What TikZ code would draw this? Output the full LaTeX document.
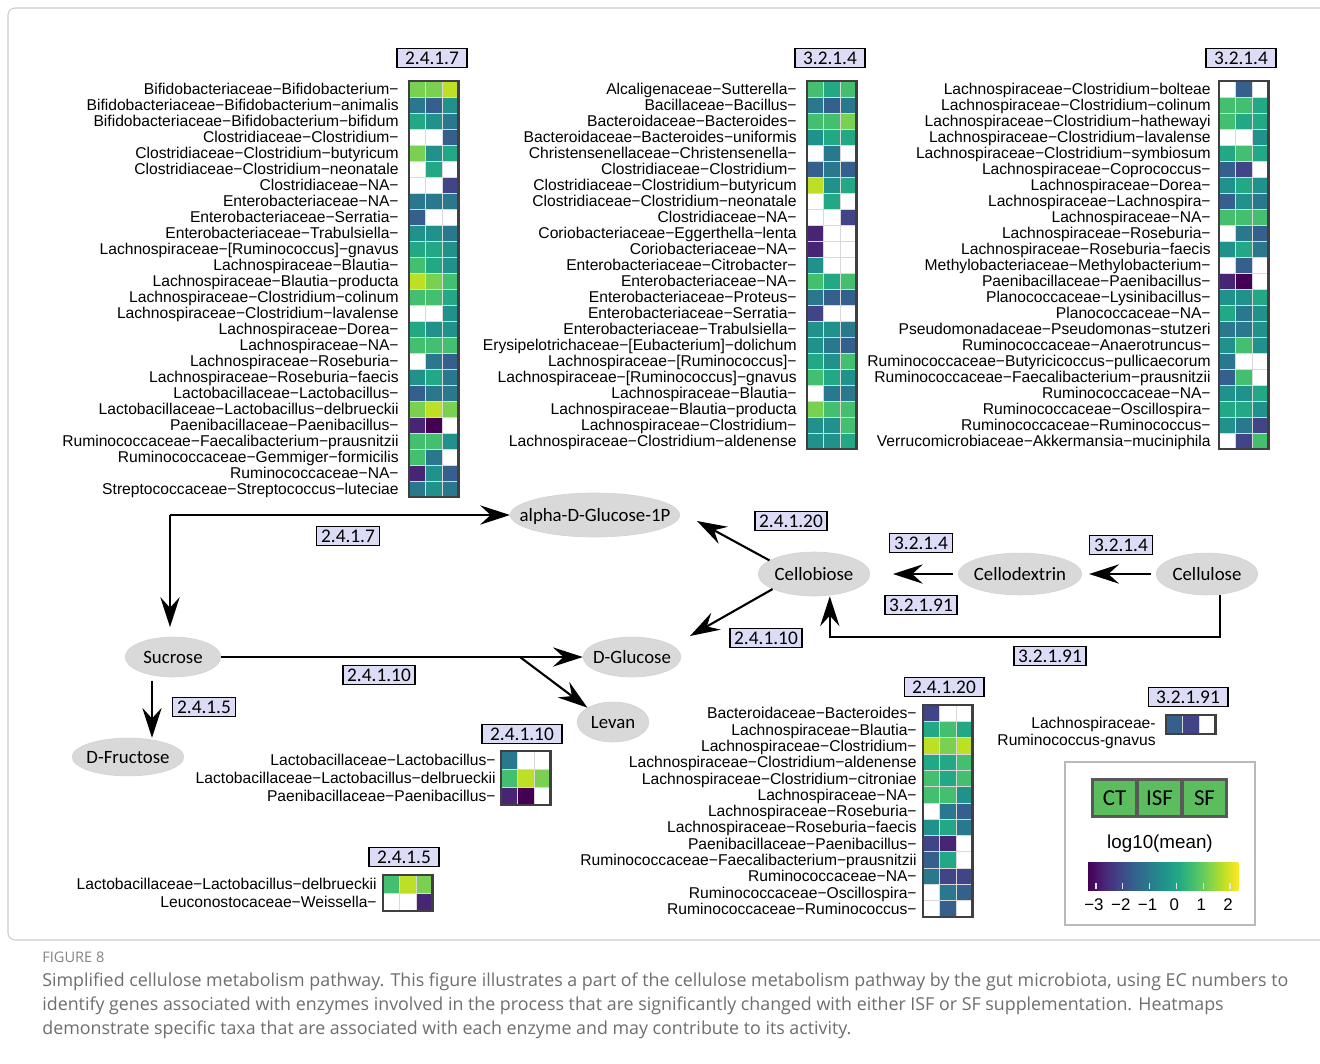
\documentclass[tikz,border=0pt]{standalone}
\usepackage{fontspec}
\setmainfont{Liberation Sans}
\newfontfamily\calibfont{Carlito}
\newfontfamily\capfont{Open Sans}
\usetikzlibrary{arrows.meta,shapes.geometric}

\definecolor{v0}{HTML}{440154}
\definecolor{v1}{HTML}{482475}
\definecolor{v2}{HTML}{414487}
\definecolor{v3}{HTML}{355F8D}
\definecolor{v4}{HTML}{2A788E}
\definecolor{v5}{HTML}{21918C}
\definecolor{v6}{HTML}{22A884}
\definecolor{v7}{HTML}{44BF70}
\definecolor{v8}{HTML}{7AD151}
\definecolor{v9}{HTML}{BDDF26}
\definecolor{v10}{HTML}{FDE725}
\colorlet{w}{white}
\definecolor{ecfill}{HTML}{DCDCF7}
\definecolor{metabfill}{HTML}{D9D9D9}
\definecolor{grpfill}{HTML}{5CBD5E}
\definecolor{capgray}{HTML}{6D6E71}

% left x, top y, row height, number of rows, rows of cell colours
\newcommand{\heatmap}[5]{%
    \foreach \hrow [count=\rowi from 0] in {#5}{%
        \foreach \hcol [count=\colj from 0] in \hrow{%
            \filldraw[fill=\hcol, draw=gray!30, line width=0.3pt]
                ({#1+16.5*\colj},{#2+#3*\rowi}) rectangle ++(16.5,#3);
        }
    }
    \draw[hmframe] (#1,#2) rectangle ++(49.5,{#3*#4});
}
\newcommand{\mtxt}[1]{\makebox[0pt]{\smash{\raisebox{-0.32em}{#1}}}}

\begin{document}
\begin{tikzpicture}[
        x=0.02cm, y=-0.02cm,
        taxon/.style={
            anchor=east,
            inner sep=0pt,
            text height=6.4pt,
            text depth=0pt,
            font=\fontsize{8.9}{10}\selectfont
        },
        hmframe/.style={
            draw=black!75,
            line width=1.3pt
        },
        ec/.style={
            draw,
            fill=ecfill,
            line width=0.9pt,
            inner xsep=2.5pt,
            inner ysep=1.6pt,
            text height=7.6pt,
            text depth=0pt,
            font=\calibfont\fontsize{11}{12}\selectfont
        },
        ectitle/.style={
            ec,
            inner xsep=4.5pt
        },
        metab/.style={
            ellipse,
            fill=metabfill,
            draw=black!17,
            inner sep=0pt,
            font=\calibfont\fontsize{10.7}{12}\selectfont
        },
        arr/.style={
            line width=1.2pt,
            -{Stealth[length=17pt,width=11pt,inset=6pt]}
        },
        grp/.style={
            draw=black!65,
            fill=grpfill,
            line width=1.7pt,
            minimum width=25.5pt,
            minimum height=21.5pt,
            inner sep=0pt,
            font=\calibfont\fontsize{13}{14}\selectfont
        },
        caption/.style={
            anchor=west,
            inner sep=0pt,
            text=capgray,
            text height=7.4pt,
            text depth=2pt,
            font=\capfont\fontsize{10.15}{12}\selectfont
        }
    ]

    \fill[white] (0,0) rectangle (1320,1063);
    \useasboundingbox (0,0) rectangle (1320,1063);
    \draw[gray!40, line width=0.6pt, rounded corners=4pt] (8,8) rectangle (1345,940);

    % heatmap 2.4.1.7
    \node[ectitle] (gp-t) at (432,58) {2.4.1.7};
    \heatmap{409}{81}{16}{26}{
        {v8,v8,v9},{v4,v3,v5},{v6,v5,v4},{w,w,v3},{v8,v5,v6},{w,v6,w},
        {w,w,v2},{v4,v4,v4},{v3,w,w},{v5,v5,v4},{v6,v6,v5},{v7,v6,v5},
        {v9,v8,v7},{v7,v7,v6},{w,w,v5},{v6,v5,v5},{v7,v7,v7},{w,v4,v3},
        {v5,v6,v4},{v3,v4,v4},{v8,v9,v8},{v1,v0,w},{v7,v7,v5},{v7,v4,w},
        {v1,v5,v3},{v4,v5,v4}}
    \foreach \lab [count=\i from 0] in {
        Bifidobacteriaceae−Bifidobacterium−,
        Bifidobacteriaceae−Bifidobacterium−animalis,
        Bifidobacteriaceae−Bifidobacterium−bifidum,
        Clostridiaceae−Clostridium−,
        Clostridiaceae−Clostridium−butyricum,
        Clostridiaceae−Clostridium−neonatale,
        Clostridiaceae−NA−,
        Enterobacteriaceae−NA−,
        Enterobacteriaceae−Serratia−,
        Enterobacteriaceae−Trabulsiella−,
        Lachnospiraceae−[Ruminococcus]−gnavus,
        Lachnospiraceae−Blautia−,
        Lachnospiraceae−Blautia−producta,
        Lachnospiraceae−Clostridium−colinum,
        Lachnospiraceae−Clostridium−lavalense,
        Lachnospiraceae−Dorea−,
        Lachnospiraceae−NA−,
        Lachnospiraceae−Roseburia−,
        Lachnospiraceae−Roseburia−faecis,
        Lactobacillaceae−Lactobacillus−,
        Lactobacillaceae−Lactobacillus−delbrueckii,
        Paenibacillaceae−Paenibacillus−,
        Ruminococcaceae−Faecalibacterium−prausnitzii,
        Ruminococcaceae−Gemmiger−formicilis,
        Ruminococcaceae−NA−,
        Streptococcaceae−Streptococcus−luteciae}
        \node[taxon] (gp-\i) at (399,{89+16*\i}) {\lab};

    % heatmap 3.2.1.4 (middle)
    \node[ectitle] (ega-t) at (830,58) {3.2.1.4};
    \heatmap{807}{81}{16}{23}{
        {v7,v6,v7},{v4,v3,v4},{v7,v7,v8},{v5,v6,v6},{w,v4,w},{v3,v4,v3},
        {v9,v5,v6},{w,v6,w},{w,w,v2},{v1,w,w},{v1,w,w},{v5,w,w},
        {v7,v6,v7},{v4,v3,v3},{v2,w,w},{v5,v5,v4},{v5,v4,v3},{v6,v5,v7},
        {v7,v6,v5},{w,v4,v4},{v8,v7,v7},{v5,v5,v7},{v5,v5,v6}}
    \foreach \lab [count=\i from 0] in {
        Alcaligenaceae−Sutterella−,
        Bacillaceae−Bacillus−,
        Bacteroidaceae−Bacteroides−,
        Bacteroidaceae−Bacteroides−uniformis,
        Christensenellaceae−Christensenella−,
        Clostridiaceae−Clostridium−,
        Clostridiaceae−Clostridium−butyricum,
        Clostridiaceae−Clostridium−neonatale,
        Clostridiaceae−NA−,
        Coriobacteriaceae−Eggerthella−lenta,
        Coriobacteriaceae−NA−,
        Enterobacteriaceae−Citrobacter−,
        Enterobacteriaceae−NA−,
        Enterobacteriaceae−Proteus−,
        Enterobacteriaceae−Serratia−,
        Enterobacteriaceae−Trabulsiella−,
        Erysipelotrichaceae−[Eubacterium]−dolichum,
        Lachnospiraceae−[Ruminococcus]−,
        Lachnospiraceae−[Ruminococcus]−gnavus,
        Lachnospiraceae−Blautia−,
        Lachnospiraceae−Blautia−producta,
        Lachnospiraceae−Clostridium−,
        Lachnospiraceae−Clostridium−aldenense}
        \node[taxon] (ega-\i) at (797,{89+16*\i}) {\lab};

    % heatmap 3.2.1.4 (right)
    \node[ectitle] (egb-t) at (1241,58) {3.2.1.4};
    \heatmap{1219}{81}{16}{23}{
        {w,v3,w},{v7,v7,v6},{v7,v6,v6},{w,w,v5},{v6,v7,v6},{v3,v2,w},
        {v5,v6,v5},{v3,v5,v4},{v7,v7,v7},{w,v4,v3},{v5,v6,v4},{w,v3,w},
        {v1,v0,w},{v5,v5,v6},{v6,v4,v5},{v4,v4,v5},{v5,v7,v5},{v4,w,w},
        {v3,v7,w},{v5,v5,v6},{v6,v6,v5},{v5,v4,v2},{w,v2,v7}}
    \foreach \lab [count=\i from 0] in {
        Lachnospiraceae−Clostridium−bolteae,
        Lachnospiraceae−Clostridium−colinum,
        Lachnospiraceae−Clostridium−hathewayi,
        Lachnospiraceae−Clostridium−lavalense,
        Lachnospiraceae−Clostridium−symbiosum,
        Lachnospiraceae−Coprococcus−,
        Lachnospiraceae−Dorea−,
        Lachnospiraceae−Lachnospira−,
        Lachnospiraceae−NA−,
        Lachnospiraceae−Roseburia−,
        Lachnospiraceae−Roseburia−faecis,
        Methylobacteriaceae−Methylobacterium−,
        Paenibacillaceae−Paenibacillus−,
        Planococcaceae−Lysinibacillus−,
        Planococcaceae−NA−,
        Pseudomonadaceae−Pseudomonas−stutzeri,
        Ruminococcaceae−Anaerotruncus−,
        Ruminococcaceae−Butyricicoccus−pullicaecorum,
        Ruminococcaceae−Faecalibacterium−prausnitzii,
        Ruminococcaceae−NA−,
        Ruminococcaceae−Oscillospira−,
        Ruminococcaceae−Ruminococcus−,
        Verrucomicrobiaceae−Akkermansia−muciniphila}
        \node[taxon] (egb-\i) at (1211,{89+16*\i}) {\lab};

    % heatmap 2.4.1.20
    \node[ectitle] (cp-t) at (944,687) {2.4.1.20};
    \heatmap{923}{705}{16.3}{13}{
        {v2,w,w},{v6,v7,v6},{v9,v8,v9},{v6,v6,v7},{v7,v6,v7},{v7,v7,v5},
        {w,v4,v3},{v5,v6,v4},{v2,v1,w},{v3,v6,w},{v4,v2,v2},{w,v4,v3},
        {w,v3,w}}
    \foreach \lab [count=\i from 0] in {
        Bacteroidaceae−Bacteroides−,
        Lachnospiraceae−Blautia−,
        Lachnospiraceae−Clostridium−,
        Lachnospiraceae−Clostridium−aldenense,
        Lachnospiraceae−Clostridium−citroniae,
        Lachnospiraceae−NA−,
        Lachnospiraceae−Roseburia−,
        Lachnospiraceae−Roseburia−faecis,
        Paenibacillaceae−Paenibacillus−,
        Ruminococcaceae−Faecalibacterium−prausnitzii,
        Ruminococcaceae−NA−,
        Ruminococcaceae−Oscillospira−,
        Ruminococcaceae−Ruminococcus−}
        \node[taxon] (cp-\i) at (917,{713.2+16.3*\i}) {\lab};

    % heatmap 2.4.1.10
    \node[ectitle] (lv-t) at (522,734) {2.4.1.10};
    \heatmap{501}{751}{18}{3}{{v4,w,w},{v7,v9,v8},{v1,v0,w}}
    \node[taxon] (lv-0) at (496,760) {Lactobacillaceae−Lactobacillus−};
    \node[taxon] (lv-1) at (496,778) {Lactobacillaceae−Lactobacillus−delbrueckii};
    \node[taxon] (lv-2) at (496,796) {Paenibacillaceae−Paenibacillus−};

    % heatmap 2.4.1.5
    \node[ectitle] (sx-t) at (404,857) {2.4.1.5};
    \heatmap{383}{875}{18}{2}{{v7,v9,v8},{w,w,v1}}
    \node[taxon] (sx-0) at (377,884) {Lactobacillaceae−Lactobacillus−delbrueckii};
    \node[taxon] (sx-1) at (377,902) {Leuconostocaceae−Weissella−};

    % heatmap 3.2.1.91
    \node[ectitle] (bg-t) at (1188,697) {3.2.1.91};
    \heatmap{1166}{715}{19}{1}{{v3,v2,w}}
    \node[taxon] (bg-0) at (1156,723) {Lachnospiraceae-};
    \node[taxon] (bg-1) at (1156,740) {Ruminococcus-gnavus};

    % pathway
    \node[metab, minimum width=96.4pt, minimum height=25pt] (aglc) at (595,515) {\mtxt{alpha-D-Glucose-1P}};
    \node[metab, minimum width=63.5pt, minimum height=25pt] (cbio) at (814,574) {\mtxt{Cellobiose}};
    \node[metab, minimum width=70.3pt, minimum height=23.8pt] (cdex) at (1020,574) {\mtxt{Cellodextrin}};
    \node[metab, minimum width=57.8pt, minimum height=23.8pt] (cell) at (1207,574) {\mtxt{Cellulose}};
    \node[metab, minimum width=54.4pt, minimum height=22.7pt] (sucr) at (173,657) {\mtxt{Sucrose}};
    \node[metab, minimum width=55.6pt, minimum height=22.7pt] (dglc) at (632,657) {\mtxt{D-Glucose}};
    \node[metab, minimum width=40.8pt, minimum height=22.7pt] (levan) at (613,722) {\mtxt{Levan}};
    \node[metab, minimum width=63.5pt, minimum height=21.5pt] (dfru) at (128,757) {\mtxt{D-Fructose}};

    \coordinate (corner) at (170,515);
    \coordinate (split) at (520,657);
    \coordinate (frtop) at (152,681);
    \coordinate (tipA) at (697,521);
    \coordinate (tipB) at (690,636);

    \draw[arr] (corner) -- (aglc.west);
    \draw[arr, shorten >=5.5pt] (corner) -- (corner |- sucr.north);
    \draw[arr] (sucr.east) -- (dglc.west);
    \draw[arr] (split) -- (levan.north west);
    \draw[arr] (frtop) -- (frtop |- dfru.north);
    \draw[arr] (cbio.163) -- (tipA);
    \draw[arr] (cbio.200) -- (tipB);
    \draw[arr, shorten <=3pt, shorten >=13pt] (cdex.west) -- (cbio.east);
    \draw[arr, shorten <=3pt, shorten >=4pt] (cell.west) -- (cdex.east);
    \draw[arr] ([xshift=7.4pt]cell.south) -- ++(0,42) -| ([xshift=9pt]cbio.south);

    \node[ec] (ec-gp) at (348,536) {2.4.1.7};
    \node[ec] (ec-cp) at (791,521) {2.4.1.20};
    \node[ec] (ec-ega) at (921,543) {3.2.1.4};
    \node[ec] (ec-egb) at (1121,545) {3.2.1.4};
    \node[ec] (ec-bga) at (921,605) {3.2.1.91};
    \node[ec] (ec-lva) at (766,638) {2.4.1.10};
    \node[ec] (ec-bgb) at (1050,656) {3.2.1.91};
    \node[ec] (ec-lvb) at (379,675) {2.4.1.10};
    \node[ec] (ec-sx) at (204,707) {2.4.1.5};

    % legend
    \draw[gray!55, line width=0.8pt] (1065,762) rectangle (1255,925);
    \node[grp] (ct) at (1114.5,798) {CT};
    \node[grp] (isf) at (1159.5,798) {ISF};
    \node[grp] (sf) at (1204.5,798) {SF};
    \node[font=\fontsize{10.7}{12}\selectfont] (logm) at (1160,844) {log10(mean)};
    \foreach \i [evaluate=\i as \j using int(\i+1)] in {0,...,9}
        \shade[left color=v\i, right color=v\j] ({1088+15*\i},862) rectangle ++(15.3,28);
    \foreach \v/\t in {-3/−3,-2/−2,-1/−1,0/0,1/1,2/2}{
        \draw[white!80!gray, line width=0.6pt] ({1096+26.8*(\v+3)},883) -- ++(0,6);
        \node[font=\fontsize{9.6}{11}\selectfont] (tick\v) at ({1094+26.8*(\v+3)},905) {\t};
    }

    % caption
    \node[caption, font=\capfont\fontsize{8.3}{10}\selectfont, text=capgray!85] (figno) at (42,958) {FIGURE 8};
    \node[caption] (cap-1) at (42,982) {Simplified cellulose metabolism pathway. This figure illustrates a part of the cellulose metabolism pathway by the gut microbiota, using EC numbers to};
    \node[caption] (cap-2) at (42,1006) {identify genes associated with enzymes involved in the process that are significantly changed with either ISF or SF supplementation. Heatmaps};
    \node[caption] (cap-3) at (42,1030) {demonstrate specific taxa that are associated with each enzyme and may contribute to its activity.};

\end{tikzpicture}
\end{document}
